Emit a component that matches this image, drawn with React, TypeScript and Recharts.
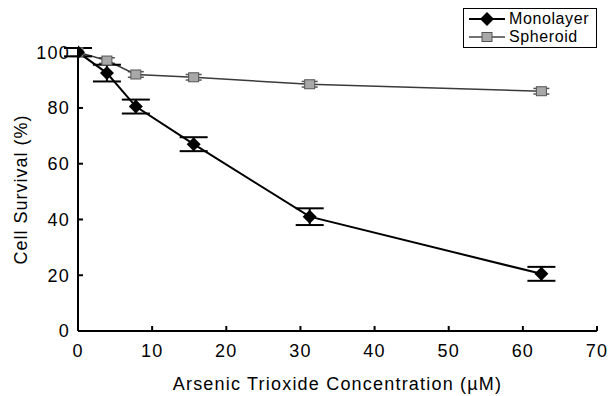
import React from 'react'
import { LineChart, Line, XAxis, YAxis, ErrorBar, Legend } from 'recharts'

const concentrations = [0, 3.9, 7.8, 15.6, 31.25, 62.5]
const monolayer = [100, 92.5, 80.5, 67, 41, 20.5]
const monolayerErr = [1.5, 3, 2.5, 2.5, 3, 2.5]
const spheroid = [100, 97, 92, 91, 88.5, 86]
const spheroidErr = [1.5, 1, 1, 1, 1, 1]
const xTicks = [0, 10, 20, 30, 40, 50, 60, 70]
const yTicks = [0, 20, 40, 60, 80, 100]

const monoData = concentrations.map((x, i) => ({ x, y: monolayer[i], err: monolayerErr[i] }))
const sphData = concentrations.map((x, i) => ({ x, y: spheroid[i], err: spheroidErr[i] }))

const font = '"Liberation Sans", Arial, sans-serif'
const textStyle = { fill: '#000', fontSize: 18, fontFamily: font, letterSpacing: 1.2 }

const Diamond = (props: any) => {
  const { cx, cy } = props
  if (cx == null || cy == null) return null
  const r = 7
  return <path d={`M${cx},${cy - r}L${cx + r},${cy}L${cx},${cy + r}L${cx - r},${cy}Z`} fill="#000" />
}

const Square = (props: any) => {
  const { cx, cy } = props
  if (cx == null || cy == null) return null
  return <rect x={cx - 5} y={cy - 4.5} width={10} height={9} fill="#a8a8a8" stroke="#555" strokeWidth={1} />
}

const LegendBox = () => (
  <div
    style={{
      border: '1.5px solid #000',
      background: '#fff',
      width: 134,
      height: 40,
      fontFamily: font,
      fontSize: 16,
      letterSpacing: 0.6,
      boxSizing: 'border-box',
      padding: '1px 3px',
      lineHeight: '18px',
    }}
  >
    <div style={{ display: 'flex', alignItems: 'center' }}>
      <svg width={40} height={18}>
        <line x1={2} y1={9} x2={38} y2={9} stroke="#000" strokeWidth={2} />
        <path d="M20,2L27,9L20,16L13,9Z" fill="#000" />
      </svg>
      <span style={{ marginLeft: 2 }}>Monolayer</span>
    </div>
    <div style={{ display: 'flex', alignItems: 'center' }}>
      <svg width={40} height={18}>
        <line x1={2} y1={9} x2={38} y2={9} stroke="#444" strokeWidth={1.5} />
        <rect x={15} y={4.5} width={10} height={9} fill="#a8a8a8" stroke="#555" />
      </svg>
      <span style={{ marginLeft: 2 }}>Spheroid</span>
    </div>
  </div>
)

export default function App() {
  return (
    <div style={{ position: 'absolute', left: 0, top: 0, width: 612, height: 396, background: '#fff' }}>
      <LineChart width={612} height={396} margin={{ top: 48, right: 15, bottom: 0, left: 18 }}>
        <XAxis
          type="number"
          dataKey="x"
          domain={[0, 70]}
          ticks={xTicks}
          allowDataOverflow
          stroke="#000"
          strokeWidth={2}
          tickSize={-5}
          tickMargin={18}
          tick={textStyle}
          height={65}
          label={{
            value: 'Arsenic Trioxide Concentration (\u00b5M)',
            position: 'insideBottom',
            offset: 6,
            style: textStyle,
          }}
        />
        <YAxis
          type="number"
          domain={[0, 100]}
          ticks={yTicks}
          width={60}
          stroke="#000"
          strokeWidth={2}
          tickSize={-5}
          tickMargin={13}
          tick={textStyle}
          label={{
            value: 'Cell Survival (%)',
            angle: -90,
            position: 'insideLeft',
            offset: 3,
            style: { ...textStyle, letterSpacing: 1, textAnchor: 'middle' },
          }}
        />
        <Legend
          layout="horizontal"
          verticalAlign="middle"
          align="center"
          content={<LegendBox />}
          wrapperStyle={{ left: 463, top: 8, width: 134 }}
        />
        <Line
          data={sphData}
          dataKey="y"
          name="Spheroid"
          stroke="#3a3a3a"
          strokeWidth={1.5}
          dot={<Square />}
          isAnimationActive={false}
        >
          <ErrorBar dataKey="err" width={8} stroke="#555" strokeWidth={1.5} direction="y" />
        </Line>
        <Line
          data={monoData}
          dataKey="y"
          name="Monolayer"
          stroke="#000"
          strokeWidth={2}
          dot={<Diamond />}
          isAnimationActive={false}
        >
          <ErrorBar dataKey="err" width={14} stroke="#000" strokeWidth={2} direction="y" />
        </Line>
      </LineChart>
    </div>
  )
}
